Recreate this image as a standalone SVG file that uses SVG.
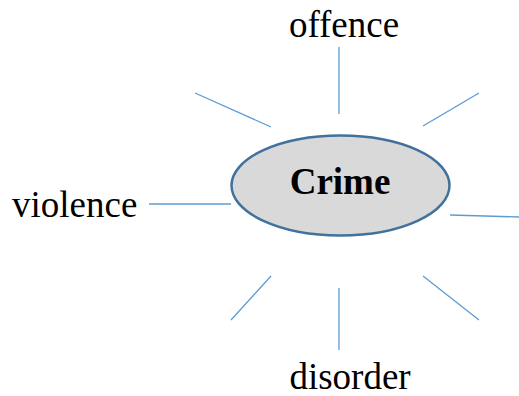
<svg xmlns="http://www.w3.org/2000/svg" width="519" height="396" viewBox="0 0 519 396">
<style>
.c{stroke:#5B9BD5;stroke-width:1.3;fill:none}
.t{font-family:"Liberation Serif","Times New Roman",serif;font-size:37px;fill:#000}
</style>
<rect width="519" height="396" fill="#fff"/>
<g id="connectors">
<line class="c" x1="339" y1="47" x2="339" y2="114"/>
<line class="c" x1="195" y1="93" x2="271" y2="127"/>
<line class="c" x1="479" y1="93" x2="423" y2="126"/>
<line class="c" x1="149" y1="204" x2="231" y2="204"/>
<line class="c" x1="450" y1="215" x2="519" y2="217"/>
<line class="c" x1="271" y1="276" x2="231" y2="320"/>
<line class="c" x1="339" y1="288" x2="339" y2="350"/>
<line class="c" x1="423" y1="276" x2="479" y2="320"/>
</g>
<g id="crime">
<ellipse cx="340.5" cy="185.5" rx="109" ry="50" fill="#D9D9D9" stroke="#41719C" stroke-width="2.5"/>
<text class="t" x="340" y="194" text-anchor="middle" font-weight="bold">Crime</text>
</g>
<g id="offence"><text class="t" x="344" y="37" text-anchor="middle">offence</text></g>
<g id="violence"><text class="t" x="12" y="217">violence</text></g>
<g id="disorder"><text class="t" x="350" y="389" text-anchor="middle">disorder</text></g>
</svg>
